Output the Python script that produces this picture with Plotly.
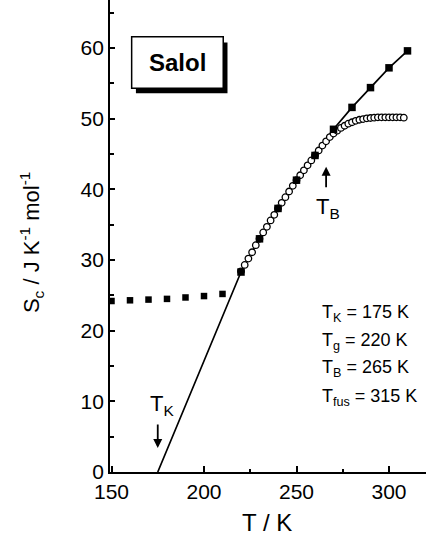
import plotly.graph_objects as go

# ---- data ----
T_glass = [150, 160, 170, 180, 190, 200, 210]
S_glass = [24.2, 24.3, 24.4, 24.5, 24.7, 24.9, 25.2]

T_sq = [220, 230, 240, 250, 260, 270, 280, 290, 300, 310]
S_sq = [28.3, 33.0, 37.3, 41.3, 44.8, 48.5, 51.6, 54.4, 57.2, 59.6]

T_extrap = [175, 220]
S_extrap = [0.0, 28.3]

T_circ = [220, 222, 224, 226, 228, 230, 232, 234, 236, 238, 240, 242, 244, 246, 248,
          250, 252, 254, 256, 258, 260, 262, 264, 266, 268, 270, 272, 274, 276, 278,
          280, 282, 284, 286, 288, 290, 292, 294, 296, 298, 300, 302, 304, 306, 308]
S_circ = [28.4, 29.3, 30.2, 31.1, 32.1, 33.0, 33.9, 34.7, 35.6, 36.4, 37.3, 38.1, 38.9, 39.7, 40.5,
          41.3, 42.0, 42.7, 43.4, 44.1, 44.8, 45.5, 46.2, 46.8, 47.4, 47.9, 48.3, 48.7, 49.0, 49.3,
          49.5, 49.7, 49.85, 49.95, 50.05, 50.1, 50.15, 50.2, 50.2, 50.2, 50.2, 50.2, 50.2, 50.2, 50.15]

x_ticks = [150, 200, 250, 300]
y_ticks = [0, 10, 20, 30, 40, 50, 60]
temps_text = ["T<sub>K</sub> = 175 K", "T<sub>g</sub> = 220 K",
              "T<sub>B</sub> = 265 K", "T<sub>fus</sub> = 315 K"]
temps_y = [22.5, 18.5, 14.6, 10.5]

FONT = "Arial, Liberation Sans, Helvetica, sans-serif"

fig = go.Figure()

# extrapolated line + line through filled squares
fig.add_trace(go.Scatter(x=T_extrap + T_sq[1:], y=S_extrap + S_sq[1:], mode="lines",
                         line=dict(color="black", width=1.7), showlegend=False))
# open circles
fig.add_trace(go.Scatter(x=T_circ, y=S_circ, mode="markers",
                         marker=dict(symbol="circle", size=6.5, color="white",
                                     line=dict(color="black", width=1.3)),
                         showlegend=False))
# filled squares
fig.add_trace(go.Scatter(x=T_sq, y=S_sq, mode="markers",
                         marker=dict(symbol="square", size=7.5, color="black"),
                         showlegend=False))
# glass squares (dotted)
fig.add_trace(go.Scatter(x=T_glass, y=S_glass, mode="markers",
                         marker=dict(symbol="square", size=6.5, color="black"),
                         showlegend=False))

# Salol box with shadow
fig.add_shape(type="rect", xref="x", yref="y", x0=163.2, x1=212.7, y0=53.6, y1=60.8,
              fillcolor="black", line=dict(width=0), layer="above")
fig.add_shape(type="rect", xref="x", yref="y", x0=160.9, x1=210.4, y0=54.3, y1=61.6,
              fillcolor="white", line=dict(color="black", width=1.5), layer="above")

ann = []
ann.append(dict(x=185.6, y=57.9, xref="x", yref="y", text="<b>Salol</b>", showarrow=False,
                font=dict(family=FONT, size=24, color="black")))
# T_B arrow and label
ann.append(dict(x=266, y=43.2, ax=0, ay=22, xref="x", yref="y", text="", showarrow=True,
                arrowhead=2, arrowsize=1, arrowwidth=1.8, arrowcolor="black"))
ann.append(dict(x=267, y=37.3, xref="x", yref="y", text="T<sub>B</sub>", showarrow=False,
                font=dict(family=FONT, size=22, color="black")))
# T_K arrow and label
ann.append(dict(x=175, y=3.4, ax=0, ay=-25, xref="x", yref="y", text="", showarrow=True,
                arrowhead=2, arrowsize=1, arrowwidth=1.8, arrowcolor="black"))
ann.append(dict(x=177.2, y=9.5, xref="x", yref="y", text="T<sub>K</sub>", showarrow=False,
                font=dict(family=FONT, size=22, color="black")))
for txt, yy in zip(temps_text, temps_y):
    ann.append(dict(x=262.6, y=yy, xref="x", yref="y", text=txt, showarrow=False,
                    xanchor="left", yanchor="middle",
                    font=dict(family=FONT, size=18, color="black")))
# axis titles
ann.append(dict(x=0.497, y=-0.108, xref="paper", yref="paper", text="T / K", showarrow=False,
                xanchor="center", yanchor="middle",
                font=dict(family=FONT, size=24, color="black")))
ann.append(dict(x=-0.25, y=0.485, xref="paper", yref="paper",
                text="S<sub>c</sub> / J K<sup>-1</sup> mol<sup>-1</sup>", showarrow=False,
                textangle=-90, xanchor="center", yanchor="middle",
                font=dict(family=FONT, size=22, color="black")))

fig.update_layout(
    width=426, height=535,
    margin=dict(l=110, r=0, t=0, b=63),
    paper_bgcolor="white", plot_bgcolor="white",
    showlegend=False,
    annotations=ann,
    xaxis=dict(range=[149.19, 320.0], tickvals=x_ticks, ticks="inside", ticklen=6,
               tickwidth=1.5, tickcolor="black", showline=True, linecolor="black",
               linewidth=1.8, showgrid=False, zeroline=False,
               tickfont=dict(family=FONT, size=21, color="black"),
               minor=dict(tickvals=[225, 275], ticks="inside", ticklen=3,
                          tickwidth=1.5, tickcolor="black", showgrid=False)),
    yaxis=dict(range=[0, 66.8], tickvals=y_ticks, ticks="inside", ticklen=5,
               tickwidth=1.5, tickcolor="black", showline=True, linecolor="black",
               linewidth=1.8, showgrid=False, zeroline=False,
               tickfont=dict(family=FONT, size=21, color="black"),
               minor=dict(tickvals=[5, 15, 25, 35, 45, 55, 65], ticks="inside", ticklen=4,
                          tickwidth=1.5, tickcolor="black", showgrid=False)),
)

fig.write_html("out.html", config={"displayModeBar": False},
               post_script="document.body.style.margin='0px';document.body.style.overflow='hidden';")
